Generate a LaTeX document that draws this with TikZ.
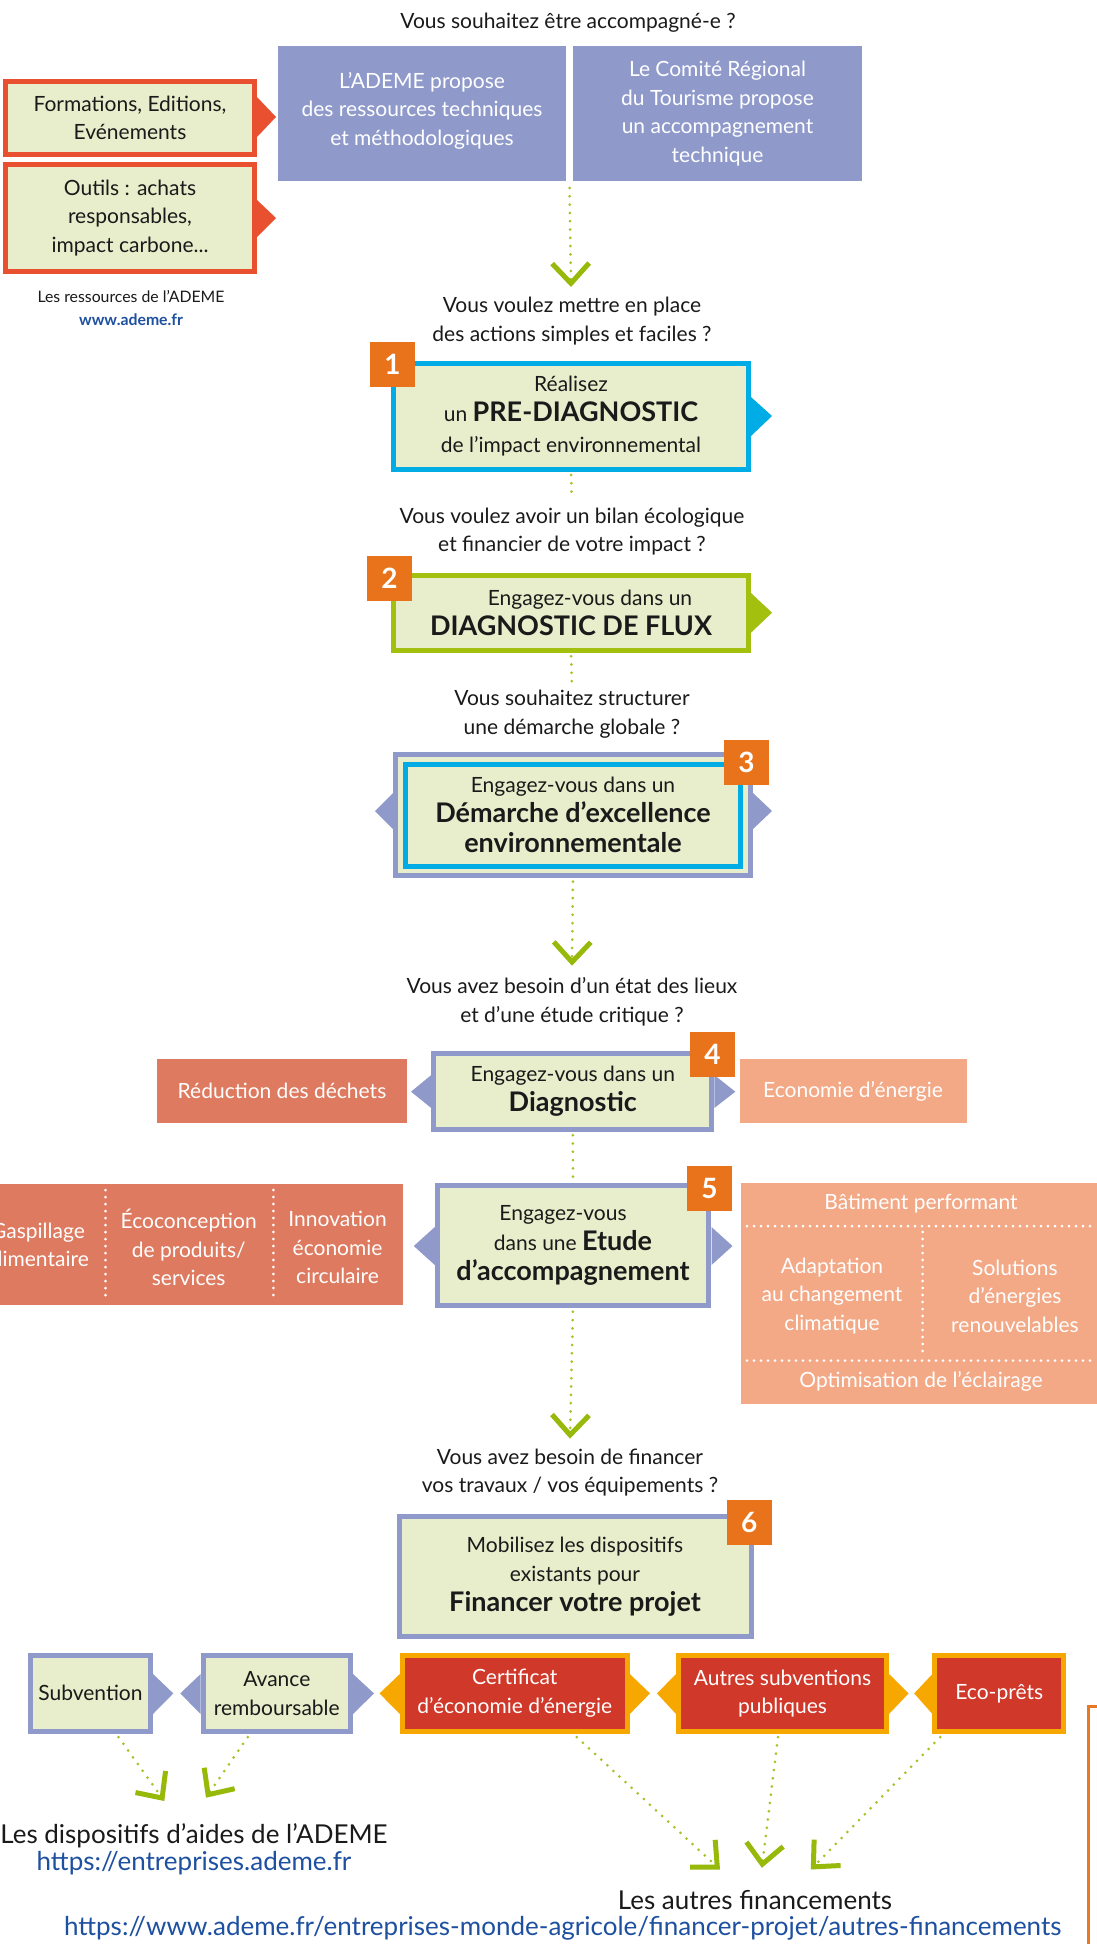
\documentclass[tikz,border=0pt]{standalone}
\usepackage{fontspec}
\setmainfont{Lato}
\usetikzlibrary{arrows.meta,calc}
\definecolor{lav}{RGB}{143,154,203}
\definecolor{pale}{RGB}{232,237,203}
\definecolor{cyanb}{RGB}{0,172,230}
\definecolor{greenb}{RGB}{164,192,14}
\definecolor{badge}{RGB}{232,115,26}
\definecolor{redor}{RGB}{232,80,47}
\definecolor{salmon}{RGB}{222,122,95}
\definecolor{lsalmon}{RGB}{243,168,134}
\definecolor{redf}{RGB}{208,56,42}
\definecolor{amber}{RGB}{246,168,0}
\definecolor{dotg}{RGB}{165,195,40}
\definecolor{chevg}{RGB}{150,185,10}
\definecolor{link}{RGB}{30,80,160}
\definecolor{txt}{RGB}{26,26,26}
\definecolor{edge}{RGB}{232,120,34}
\newcommand\qsize{\fontsize{21}{28.5}\selectfont}
\newcommand\bigsize{\fontsize{27}{31}\selectfont\bfseries}
\newcommand\smallsize{\fontsize{15.8}{23}\selectfont}
\newcommand\largesize{\fontsize{26}{27}\selectfont}
\tikzset{
  ask/.style={align=center,font=\qsize,text=txt,inner sep=0pt},
  topbox/.style={fill=lav,text=white,align=center,font=\qsize,inner sep=0pt,outer sep=0pt},
  box/.style={draw,line width=5pt,fill=pale,text=txt,align=center,font=\qsize,inner sep=0pt,outer sep=0pt},
  num/.style={fill=badge,text=white,font=\fontsize{28}{28}\selectfont\bfseries,minimum size=45pt,inner sep=0pt},
  tag/.style={text=white,align=center,font=\qsize,inner sep=0pt},
  dots/.style={dotg,line width=3pt,line cap=round,dash pattern=on 0pt off 8.3pt},
  flow/.style={dots,-{Straight Barb[length=20pt,width=37pt,line width=5pt,color=chevg]}},
  sep/.style={white,line width=3pt,line cap=round,dash pattern=on 0pt off 7pt},
}

\begin{document}
\begin{tikzpicture}[x=1pt,y=-1pt]
  \useasboundingbox (0,0) rectangle (1096,1944);
  \fill[white] (0,0) rectangle (1096,1944);

  % top: accompaniment
  \node[ask] (q0) at (568,23) {Vous souhaitez être accompagné-e ?};
  \node[topbox,minimum width=288,minimum height=135] (ademe) at (422,113.5) {\\[-18pt]L’ADEME propose\\des ressources techniques\\et méthodologiques};
  \node[topbox,minimum width=289,minimum height=135] (crt) at (717.5,113.5) {Le Comité Régional\\du Tourisme propose\\un accompagnement\\technique};

  % left resources
  \fill[redor] (257,97) -- (276,117) -- (257,137) -- cycle;
  \fill[redor] (257,200) -- (276,218) -- (257,237) -- cycle;
  \node[box,draw=redor,minimum width=249,minimum height=73] (form) at (130,118) {Formations, Editions,\\Evénements};
  \node[box,draw=redor,minimum width=249,minimum height=107] (outils) at (130,218) {Outils : achats\\responsables,\\impact carbone...};
  \node[ask,font=\smallsize] (res) at (131,308) {Les ressources de l’ADEME\\\textcolor{link}{\bfseries www.ademe.fr}};

  % step 1
  \node[ask] (q1) at (572,321) {Vous voulez mettre en place\\des actions simples et faciles ?};
  \coordinate (q1in) at (571,287);
  \draw[flow] ($(ademe.south east)!.5!(crt.south west)+(0,7)$) -- (q1in);
  \fill[cyanb] (751,397) -- (772,416) -- (751,436) -- cycle;
  \node[box,draw=cyanb,minimum width=355,minimum height=106] (b1) at (571,416) {Réalisez\\[2pt]un {\bigsize PRE-DIAGNOSTIC}\\[2pt]de l’impact environnemental};
  \node[num] (n1) at (392.5,364) {1};

  % step 2
  \node[ask] (q2) at (572,531.5) {Vous voulez avoir un bilan écologique\\et financier de votre impact ?};
  \draw[dots,shorten <=6pt,shorten >=8pt] (b1.south) -- (q2.north);
  \fill[greenb] (751,593) -- (772,612.7) -- (751,632.7) -- cycle;
  \node[box,draw=greenb,minimum width=355,minimum height=75] (b2) at (571,612.7) {\hspace*{38pt}Engagez-vous dans un\\[2pt]{\bigsize DIAGNOSTIC DE FLUX}};
  \node[num] (n2) at (389.5,578.5) {2};

  % step 3
  \node[ask] (q3) at (572,714) {Vous souhaitez structurer\\une démarche globale ?};
  \draw[dots,shorten <=6pt,shorten >=8pt] (b2.south) -- (q3.north);
  \fill[lav] (393,793) -- (375,811) -- (393,829) -- cycle;
  \fill[lav] (753,793) -- (772,811) -- (753,829) -- cycle;
  \node[box,draw=lav,minimum width=355,minimum height=121.5] (b3) at (573,814.8) {};
  \node[box,draw=cyanb,minimum width=335,minimum height=101.8] (b3in) at (573,815.2) {Engagez-vous dans un\\[1pt]{\bigsize Démarche d’excellence}\\[2pt]{\bigsize environnementale}};
  \node[num] (n3) at (746.5,762) {3};

  % step 4
  \node[ask] (q4) at (572,1002) {Vous avez besoin d’un état des lieux\\et d’une étude critique ?};
  \draw[flow,shorten <=6pt] (b3.south) -- ($(q4.north)+(0,-12)$);
  \fill[lav] (431.3,1075) -- (411,1091.7) -- (431.3,1108) -- cycle;
  \fill[lav] (714.3,1075) -- (735.3,1091.7) -- (714.3,1108) -- cycle;
  \node[box,draw=lav,minimum width=278,minimum height=76] (b4) at (572.8,1091.2) {Engagez-vous dans un\\[1pt]{\bigsize Diagnostic}};
  \node[num] (n4) at (712.6,1054.2) {4};
  \node[tag,fill=salmon,minimum width=249.5,minimum height=64] (dechets) at (282,1091.3) {Réduction des déchets};
  \node[tag,fill=lsalmon,minimum width=227,minimum height=64] (energie) at (853,1091.3) {Economie d’énergie};

  % step 5
  \fill[lav] (434.8,1227) -- (413.8,1246) -- (434.8,1265) -- cycle;
  \fill[lav] (711.5,1227) -- (732.5,1246) -- (711.5,1265) -- cycle;
  \node[box,draw=lav,minimum width=271.7,minimum height=120.6] (b5) at (573,1245.5) {Engagez-vous\hspace*{20pt}\\[1pt]dans une {\bigsize Etude}\\[2pt]{\bigsize d’accompagnement}};
  \node[num] (n5) at (709.4,1188.2) {5};
  \draw[dots,shorten <=6pt,shorten >=4pt] (b4.south) -- (b5.north);

  % themes left
  \fill[salmon] (-40,1184.3) rectangle (403.3,1305);
  \draw[sep] (105.5,1190) -- (105.5,1300);
  \draw[sep] (273.3,1190) -- (273.3,1300);
  \node[tag] (gaspi) at (38,1245) {Gaspillage\\alimentaire};
  \node[tag] (ecoc) at (188.7,1247.5) {Écoconception\\de produits/\\services};
  \node[tag] (innov) at (337.6,1247.5) {Innovation\\économie\\circulaire};

  % themes right
  \fill[lsalmon] (741,1182.7) rectangle (1110,1404.3);
  \draw[sep] (747,1226) -- (1096,1226);
  \draw[sep] (747,1360.7) -- (1096,1360.7);
  \draw[sep] (922.6,1232) -- (922.6,1355);
  \node[tag] (batim) at (921,1204) {Bâtiment performant};
  \node[tag] (adapt) at (832,1296) {Adaptation\\au changement\\climatique};
  \node[tag] (solut) at (1015,1296) {Solutions\\d’énergies\\renouvelables};
  \node[tag] (eclair) at (921,1381) {Optimisation de l’éclairage};

  % step 6
  \node[ask] (q5) at (570,1472.6) {Vous avez besoin de financer\\vos travaux / vos équipements ?};
  \draw[flow,shorten <=6pt] (b5.south) -- ($(q5.north)+(0,-10)$);
  \node[box,draw=lav,minimum width=352,minimum height=119.7] (b6) at (575,1576.5) {Mobilisez les dispositifs\\[1pt]existants pour\\[1pt]{\bigsize Financer votre projet}};
  \node[num] (n6) at (749.3,1522) {6};

  % funding row
  \fill[lav] (153,1674) -- (173.3,1693.4) -- (153,1714) -- cycle;
  \fill[lav] (200.6,1674) -- (180.3,1693.4) -- (200.6,1714) -- cycle;
  \fill[lav] (353,1674) -- (374,1693.4) -- (353,1714) -- cycle;
  \fill[amber] (399.8,1674) -- (379.5,1693.4) -- (399.8,1714) -- cycle;
  \fill[amber] (629.8,1674) -- (650,1693.4) -- (629.8,1714) -- cycle;
  \fill[amber] (676,1674) -- (657,1693.4) -- (676,1714) -- cycle;
  \fill[amber] (889,1674) -- (908.6,1693.4) -- (889,1714) -- cycle;
  \fill[amber] (932.4,1674) -- (914.2,1693.4) -- (932.4,1714) -- cycle;
  \node[box,draw=lav,minimum width=120,minimum height=75.5] (subv) at (90.5,1693.3) {Subvention};
  \node[box,draw=lav,minimum width=147.4,minimum height=75.5] (avance) at (276.8,1693.3) {Avance\\remboursable};
  \node[box,draw=amber,fill=redf,text=white,minimum width=225,minimum height=75.5] (cee) at (514.8,1693.3) {Certificat\\d’économie d’énergie};
  \node[box,draw=amber,fill=redf,text=white,minimum width=208,minimum height=75.5] (autres) at (782.5,1693.3) {Autres subventions\\publiques};
  \node[box,draw=amber,fill=redf,text=white,minimum width=128.6,minimum height=75.5] (eco) at (999.2,1693.3) {Eco-prêts};

  % destinations
  \node[ask,font=\largesize] (aides) at (194,1849.4) {Les dispositifs d’aides de l’ADEME\\\textcolor{link}{https://entreprises.ademe.fr}};
  \node[ask,font=\largesize] (autfin) at (755,1899.6) {Les autres financements};
  \node[ask,font=\largesize,text=link] (url) at (562.7,1928) {https://www.ademe.fr/entreprises-monde-agricole/financer-projet/autres-financements};
  \coordinate (aidA) at (164.3,1801);
  \coordinate (aidB) at (206,1797.7);
  \coordinate (finA) at (720,1869.5);
  \coordinate (finB) at (761.9,1867.8);
  \coordinate (finC) at (810.8,1869.5);
  \draw[flow] ($(subv.south)+(28,6)$) -- (aidA);
  \draw[flow] ($(avance.south)+(-29,6)$) -- (aidB);
  \draw[flow] ($(cee.south)+(62,6)$) -- (finA);
  \draw[flow] ($(autres.south)+(-4.5,6)$) -- (finB);
  \draw[flow] ($(eco.south)+(-59,6)$) -- (finC);

  \draw[edge,line width=2.5pt] (1088.3,1950) -- (1088.3,1706.7) -- (1100,1706.7);
\end{tikzpicture}
\end{document}
